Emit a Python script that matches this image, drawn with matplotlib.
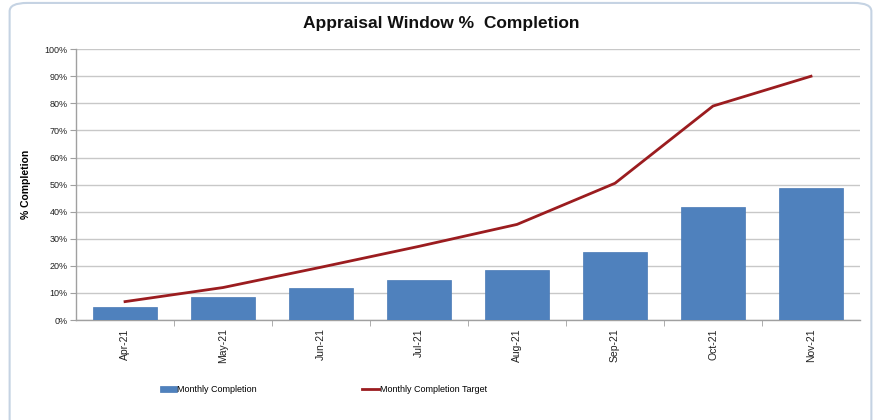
import matplotlib
matplotlib.use("Agg")
import matplotlib.pyplot as plt
from matplotlib.patches import FancyBboxPatch
from matplotlib.ticker import PercentFormatter, FixedLocator

months = ["Apr-21", "May-21", "Jun-21", "Jul-21", "Aug-21", "Sep-21", "Oct-21", "Nov-21"]
completion = [4.8, 8.4, 11.8, 14.8, 18.5, 25.0, 41.7, 48.8]
target = [6.8, 12.0, 19.5, 27.2, 35.3, 50.5, 79.0, 90.0]

plt.rcParams['font.family'] = ['Liberation Sans', 'DejaVu Sans']

fig = plt.figure(figsize=(8.74, 4.2), dpi=100)
fig.patch.set_facecolor("white")
frame = FancyBboxPatch((0.011, -0.05), 0.986, 1.043, boxstyle="round,pad=0,rounding_size=0.02",
                       transform=fig.transFigure, facecolor="white", edgecolor="#c5d3e3",
                       linewidth=1.5, zorder=-5)
fig.patches.append(frame)

ax = fig.add_axes([0.087, 0.238, 0.897, 0.645])
ax.set_facecolor("none")
x = list(range(len(months)))
bars = ax.bar(x, completion, width=0.66, color="#4f81bd", edgecolor="#4a7ab5", linewidth=0.5,
              label="Monthly Completion", zorder=3)
line, = ax.plot(x, target, color="#9b1c1f", linewidth=2.0, label="Monthly Completion Target", zorder=4)

ax.set_ylim(0, 100)
ax.set_xlim(-0.5, len(months) - 0.5)
ax.yaxis.set_major_locator(FixedLocator(range(0, 101, 10)))
ax.yaxis.set_major_formatter(PercentFormatter(decimals=0))
ax.grid(axis="y", color="#c8c8c8", linewidth=1.0, zorder=0)
ax.set_axisbelow(True)
for s in ["top", "right"]:
    ax.spines[s].set_visible(False)
for s in ["left", "bottom"]:
    ax.spines[s].set_color("#a0a0a0")
    ax.spines[s].set_linewidth(1.0)

ax.set_xticks(x)
ax.set_xticklabels(months, rotation=90, fontsize=7.5, color="#222222")
ax.set_xticks([i + 0.5 for i in x[:-1]], minor=True)
ax.tick_params(axis="x", which="major", length=0, pad=6)
ax.tick_params(axis="x", which="minor", length=4, color="#a0a0a0")
ax.tick_params(axis="y", labelsize=6.5, colors="#222222", length=4, color="#a0a0a0", pad=2)

ax.set_ylabel("% Completion", fontsize=7.5, fontweight="bold", labelpad=10)
fig.text(0.505, 0.945, "Appraisal Window %  Completion", ha="center", va="center",
         fontsize=12.5, fontweight="bold", color="#111111")

fig.legend([bars, line], ["Monthly Completion", "Monthly Completion Target"],
           loc="center", bbox_to_anchor=(0.370, 0.072), ncol=2, frameon=False,
           fontsize=6.5, columnspacing=11.7, handlelength=1.88, handletextpad=0.05)

fig.savefig("out.png", dpi=100)
